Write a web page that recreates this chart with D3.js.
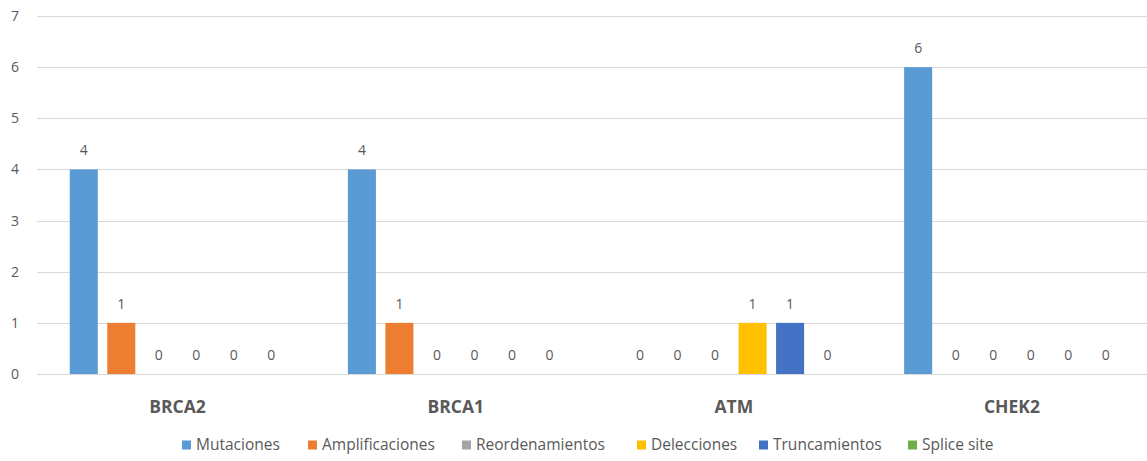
<!DOCTYPE html>
<html>
<head>
<meta charset="utf-8">
<script src="https://cdn.jsdelivr.net/npm/d3@7"></script>
<style>
  html, body { margin: 0; padding: 0; background: #fff; }
  svg { display: block; font-family: "Open Sans", "DejaVu Sans", sans-serif; }
</style>
</head>
<body>
<svg id="chart" width="1147" height="461"></svg>
<script>
// Genes and alteration types
const genes = ["BRCA2", "BRCA1", "ATM", "CHEK2"];
const seriesNames = ["Mutaciones", "Amplificaciones", "Reordenamientos", "Delecciones", "Truncamientos", "Splice site"];
const seriesColors = ["#5B9BD5", "#ED7D31", "#A5A5A5", "#FFC000", "#4472C4", "#70AD47"];

// Counts per series, one value per gene
const mutaciones      = [4, 4, 0, 6];
const amplificaciones = [1, 1, 0, 0];
const reordenamientos = [0, 0, 0, 0];
const delecciones     = [0, 0, 1, 0];
const truncamientos   = [0, 0, 1, 0];
const spliceSite      = [0, 0, 0, 0];

const yTicks = [0, 1, 2, 3, 4, 5, 6, 7];

const seriesValues = [mutaciones, amplificaciones, reordenamientos, delecciones, truncamientos, spliceSite];

const svg = d3.select("#chart");
const plotLeft = 38.5, plotRight = 1151, plotTop = 16, plotBottom = 374;

const x0 = d3.scaleBand().domain(genes).range([plotLeft, plotRight]).padding(0);
const x1 = d3.scaleBand().domain(seriesNames).range([0, x0.bandwidth()])
  .paddingInner(0.253).paddingOuter(0.833);
const y = d3.scaleLinear().domain([0, 7]).range([plotBottom, plotTop]);

// Horizontal gridlines
svg.append("g").selectAll("line").data(yTicks).join("line")
  .attr("x1", 37).attr("x2", 1147)
  .attr("y1", d => Math.round(y(d)) + 0.5).attr("y2", d => Math.round(y(d)) + 0.5)
  .attr("stroke", "#D9D9D9").attr("stroke-width", 1);

// Y axis labels
const yAxis = d3.axisLeft(y).tickValues(yTicks).tickFormat(d3.format("d")).tickSize(0).tickPadding(0);
const yg = svg.append("g").attr("transform", "translate(15,0)").call(yAxis);
yg.select(".domain").remove();
yg.selectAll("text").attr("fill", "#595959").attr("font-size", 14).attr("text-anchor", "middle")
  .attr("font-family", "'Open Sans', sans-serif");

// Bars and value labels
const groups = svg.append("g").selectAll("g").data(genes).join("g")
  .attr("transform", d => `translate(${x0(d)},0)`);

groups.each(function(gene, gi) {
  const g = d3.select(this);
  seriesNames.forEach((s, si) => {
    const v = seriesValues[si][gi];
    if (v > 0) {
      g.append("rect")
        .attr("x", x1(s)).attr("width", x1.bandwidth())
        .attr("y", y(v)).attr("height", y(0) - y(v))
        .attr("fill", seriesColors[si]);
    }
    g.append("text")
      .attr("x", x1(s) + x1.bandwidth() / 2)
      .attr("y", y(v) - 14)
      .attr("text-anchor", "middle")
      .attr("font-size", 14)
      .attr("fill", "#595959")
      .text(v);
  });
});

// Category axis labels
const xAxis = d3.axisBottom(x0).tickSize(0).tickPadding(0);
const xg = svg.append("g").attr("transform", `translate(0,${plotBottom + 39})`).call(xAxis);
xg.select(".domain").remove();
xg.selectAll("text").attr("fill", "#595959").attr("font-size", 17.5).attr("font-weight", "bold")
  .attr("font-family", "'Open Sans', sans-serif").attr("dy", "0");

// Legend
const legendX = [182, 308, 462, 637, 759, 908];
const legend = svg.append("g").selectAll("g").data(seriesNames).join("g")
  .attr("transform", (d, i) => `translate(${legendX[i]},445)`);
legend.append("rect").attr("x", 0).attr("y", -4.5).attr("width", 9).attr("height", 9)
  .attr("fill", (d, i) => seriesColors[i]);
legend.append("text").attr("x", 14).attr("y", 0).attr("dy", "0.35em")
  .attr("font-size", 15.5).attr("fill", "#595959").text(d => d);
</script>
</body>
</html>
